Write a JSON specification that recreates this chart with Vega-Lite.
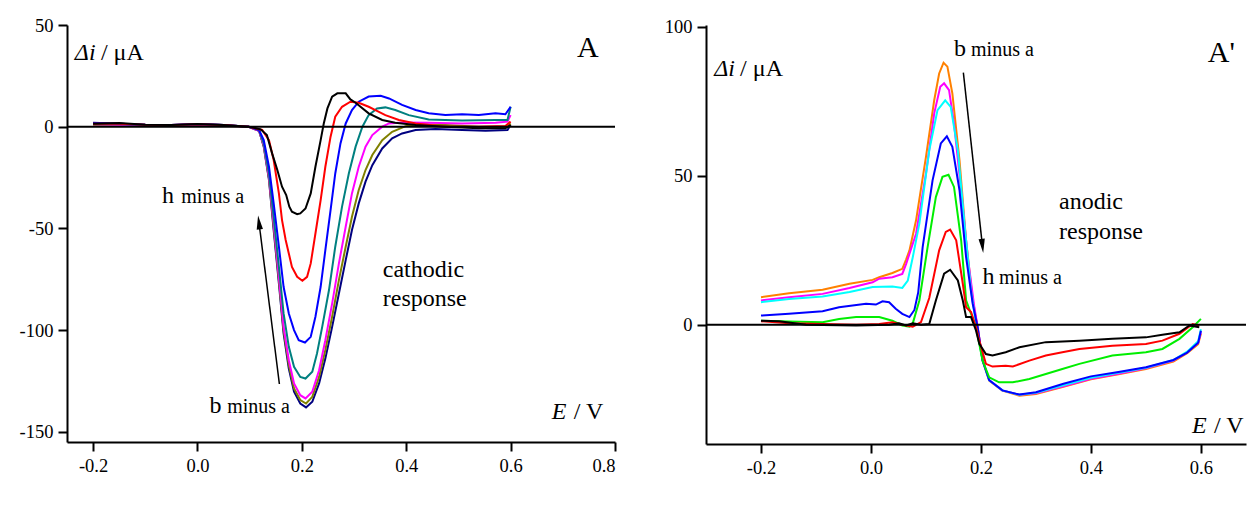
{
 "$schema": "https://vega.github.io/schema/vega-lite/v6.json",
 "padding": {"left": 19, "top": 16, "right": 0, "bottom": 0},
 "background": "white",
 "bounds": "flush",
 "spacing": 91,
 "resolve": {"scale": {"color": "independent"}},
 "config": {
  "font": "Liberation Serif, Times New Roman, serif",
  "view": {"stroke": null},
  "axis": {"grid": false, "title": null, "domainColor": "black", "domainWidth": 2, "tickColor": "black", "tickWidth": 2, "tickSize": 9, "labelFont": "Liberation Serif, Times New Roman, serif", "labelFontSize": 18.5, "labelColor": "black", "labelPadding": 5},
  "text": {"font": "Liberation Serif, Times New Roman, serif", "color": "black"}
 },
 "datasets": {
  "cath": [
   {"E":-0.2,"i":2.0,"s":"b"},{"E":-0.15,"i":1.5,"s":"b"},{"E":-0.1,"i":1.0,"s":"b"},{"E":-0.05,"i":0.8,"s":"b"},{"E":0,"i":1.3,"s":"b"},{"E":0.05,"i":0.9,"s":"b"},{"E":0.098,"i":0,"s":"b"},{"E":0.118,"i":-2.0,"s":"b"},{"E":0.127,"i":-9.8,"s":"b"},{"E":0.137,"i":-26.2,"s":"b"},{"E":0.146,"i":-50.8,"s":"b"},{"E":0.156,"i":-77.0,"s":"b"},{"E":0.165,"i":-101.6,"s":"b"},{"E":0.175,"i":-118.9,"s":"b"},{"E":0.185,"i":-130.3,"s":"b"},{"E":0.197,"i":-136.1,"s":"b"},{"E":0.208,"i":-138.0,"s":"b"},{"E":0.22,"i":-135.2,"s":"b"},{"E":0.233,"i":-126.2,"s":"b"},{"E":0.245,"i":-114.0,"s":"b"},{"E":0.258,"i":-98.4,"s":"b"},{"E":0.271,"i":-82.0,"s":"b"},{"E":0.284,"i":-65.6,"s":"b"},{"E":0.296,"i":-50.8,"s":"b"},{"E":0.309,"i":-37.7,"s":"b"},{"E":0.322,"i":-27.0,"s":"b"},{"E":0.335,"i":-18.9,"s":"b"},{"E":0.354,"i":-10.7,"s":"b"},{"E":0.373,"i":-5.7,"s":"b"},{"E":0.392,"i":-3.3,"s":"b"},{"E":0.418,"i":-1.6,"s":"b"},{"E":0.456,"i":-1.1,"s":"b"},{"E":0.507,"i":-1.6,"s":"b"},{"E":0.552,"i":-2.0,"s":"b"},{"E":0.594,"i":-1.6,"s":"b"},{"E":0.6,"i":0.8,"s":"b"},
   {"E":-0.2,"i":1.0,"s":"c"},{"E":-0.15,"i":1.0,"s":"c"},{"E":-0.1,"i":0.5,"s":"c"},{"E":-0.05,"i":0.4,"s":"c"},{"E":0,"i":0.8,"s":"c"},{"E":0.05,"i":0.5,"s":"c"},{"E":0.098,"i":0,"s":"c"},{"E":0.118,"i":-2.0,"s":"c"},{"E":0.127,"i":-9.5,"s":"c"},{"E":0.137,"i":-25.4,"s":"c"},{"E":0.146,"i":-49.2,"s":"c"},{"E":0.156,"i":-75.4,"s":"c"},{"E":0.165,"i":-100,"s":"c"},{"E":0.175,"i":-117.2,"s":"c"},{"E":0.185,"i":-128.7,"s":"c"},{"E":0.197,"i":-134.4,"s":"c"},{"E":0.208,"i":-136.1,"s":"c"},{"E":0.22,"i":-132.8,"s":"c"},{"E":0.233,"i":-123.0,"s":"c"},{"E":0.245,"i":-109.8,"s":"c"},{"E":0.258,"i":-93.4,"s":"c"},{"E":0.271,"i":-75.4,"s":"c"},{"E":0.284,"i":-59.0,"s":"c"},{"E":0.296,"i":-44.3,"s":"c"},{"E":0.309,"i":-31.1,"s":"c"},{"E":0.322,"i":-21.3,"s":"c"},{"E":0.335,"i":-13.9,"s":"c"},{"E":0.354,"i":-6.6,"s":"c"},{"E":0.373,"i":-2.5,"s":"c"},{"E":0.399,"i":0.3,"s":"c"},{"E":0.424,"i":1.3,"s":"c"},{"E":0.475,"i":0.8,"s":"c"},{"E":0.539,"i":0,"s":"c"},{"E":0.594,"i":0,"s":"c"},{"E":0.6,"i":1.6,"s":"c"},
   {"E":-0.2,"i":1.2,"s":"d"},{"E":-0.15,"i":1.0,"s":"d"},{"E":-0.1,"i":0.7,"s":"d"},{"E":-0.05,"i":0.5,"s":"d"},{"E":0,"i":1.0,"s":"d"},{"E":0.05,"i":0.6,"s":"d"},{"E":0.098,"i":0,"s":"d"},{"E":0.118,"i":-2.0,"s":"d"},{"E":0.127,"i":-9.0,"s":"d"},{"E":0.137,"i":-24.6,"s":"d"},{"E":0.146,"i":-47.5,"s":"d"},{"E":0.156,"i":-73.8,"s":"d"},{"E":0.165,"i":-98.4,"s":"d"},{"E":0.175,"i":-114.8,"s":"d"},{"E":0.185,"i":-126.2,"s":"d"},{"E":0.197,"i":-132.0,"s":"d"},{"E":0.207,"i":-133.6,"s":"d"},{"E":0.22,"i":-130.3,"s":"d"},{"E":0.233,"i":-119.7,"s":"d"},{"E":0.245,"i":-105.0,"s":"d"},{"E":0.258,"i":-87.0,"s":"d"},{"E":0.271,"i":-67.2,"s":"d"},{"E":0.284,"i":-49.2,"s":"d"},{"E":0.296,"i":-32.8,"s":"d"},{"E":0.309,"i":-19.7,"s":"d"},{"E":0.322,"i":-9.8,"s":"d"},{"E":0.335,"i":-4.1,"s":"d"},{"E":0.354,"i":0,"s":"d"},{"E":0.367,"i":1.6,"s":"d"},{"E":0.392,"i":2.1,"s":"d"},{"E":0.443,"i":2.0,"s":"d"},{"E":0.507,"i":1.6,"s":"d"},{"E":0.571,"i":2.0,"s":"d"},{"E":0.594,"i":2.5,"s":"d"},{"E":0.6,"i":5.7,"s":"d"},
   {"E":-0.2,"i":1.5,"s":"e"},{"E":-0.15,"i":1.3,"s":"e"},{"E":-0.1,"i":0.8,"s":"e"},{"E":-0.05,"i":0.6,"s":"e"},{"E":0,"i":1.2,"s":"e"},{"E":0.05,"i":0.8,"s":"e"},{"E":0.098,"i":0,"s":"e"},{"E":0.118,"i":-1.6,"s":"e"},{"E":0.127,"i":-8.2,"s":"e"},{"E":0.137,"i":-23.0,"s":"e"},{"E":0.146,"i":-44.3,"s":"e"},{"E":0.156,"i":-68.9,"s":"e"},{"E":0.165,"i":-91.8,"s":"e"},{"E":0.175,"i":-108.2,"s":"e"},{"E":0.185,"i":-118.0,"s":"e"},{"E":0.197,"i":-123.0,"s":"e"},{"E":0.207,"i":-123.8,"s":"e"},{"E":0.22,"i":-120.5,"s":"e"},{"E":0.229,"i":-111.5,"s":"e"},{"E":0.239,"i":-98.4,"s":"e"},{"E":0.252,"i":-80.3,"s":"e"},{"E":0.264,"i":-59.0,"s":"e"},{"E":0.277,"i":-39.3,"s":"e"},{"E":0.29,"i":-23.0,"s":"e"},{"E":0.303,"i":-9.8,"s":"e"},{"E":0.316,"i":0,"s":"e"},{"E":0.328,"i":5.7,"s":"e"},{"E":0.344,"i":9.0,"s":"e"},{"E":0.36,"i":9.5,"s":"e"},{"E":0.379,"i":8.2,"s":"e"},{"E":0.405,"i":5.7,"s":"e"},{"E":0.443,"i":3.6,"s":"e"},{"E":0.507,"i":3.0,"s":"e"},{"E":0.571,"i":3.3,"s":"e"},{"E":0.594,"i":3.3,"s":"e"},{"E":0.6,"i":9.8,"s":"e"},
   {"E":-0.2,"i":1.8,"s":"f"},{"E":-0.15,"i":1.5,"s":"f"},{"E":-0.1,"i":1.0,"s":"f"},{"E":-0.05,"i":0.8,"s":"f"},{"E":0,"i":1.3,"s":"f"},{"E":0.05,"i":0.9,"s":"f"},{"E":0.098,"i":0,"s":"f"},{"E":0.118,"i":-1.6,"s":"f"},{"E":0.127,"i":-6.6,"s":"f"},{"E":0.137,"i":-19.7,"s":"f"},{"E":0.146,"i":-37.7,"s":"f"},{"E":0.156,"i":-59.0,"s":"f"},{"E":0.165,"i":-78.7,"s":"f"},{"E":0.175,"i":-91.8,"s":"f"},{"E":0.185,"i":-100.0,"s":"f"},{"E":0.194,"i":-104.9,"s":"f"},{"E":0.206,"i":-106.1,"s":"f"},{"E":0.217,"i":-103.3,"s":"f"},{"E":0.226,"i":-93.4,"s":"f"},{"E":0.236,"i":-78.7,"s":"f"},{"E":0.245,"i":-60.7,"s":"f"},{"E":0.255,"i":-41.0,"s":"f"},{"E":0.264,"i":-23.0,"s":"f"},{"E":0.274,"i":-8.2,"s":"f"},{"E":0.284,"i":1.6,"s":"f"},{"E":0.296,"i":8.2,"s":"f"},{"E":0.309,"i":12.3,"s":"f"},{"E":0.328,"i":14.8,"s":"f"},{"E":0.351,"i":15.2,"s":"f"},{"E":0.367,"i":13.9,"s":"f"},{"E":0.392,"i":10.7,"s":"f"},{"E":0.418,"i":8.2,"s":"f"},{"E":0.443,"i":6.6,"s":"f"},{"E":0.475,"i":5.7,"s":"f"},{"E":0.507,"i":6.1,"s":"f"},{"E":0.539,"i":5.7,"s":"f"},{"E":0.571,"i":6.6,"s":"f"},{"E":0.59,"i":6.1,"s":"f"},{"E":0.6,"i":9.8,"s":"f"},
   {"E":-0.2,"i":1.5,"s":"g"},{"E":-0.15,"i":1.5,"s":"g"},{"E":-0.1,"i":1.0,"s":"g"},{"E":-0.05,"i":0.8,"s":"g"},{"E":0,"i":1.2,"s":"g"},{"E":0.05,"i":0.8,"s":"g"},{"E":0.098,"i":0,"s":"g"},{"E":0.124,"i":-1.6,"s":"g"},{"E":0.137,"i":-6.6,"s":"g"},{"E":0.146,"i":-16.4,"s":"g"},{"E":0.156,"i":-32.8,"s":"g"},{"E":0.162,"i":-45.9,"s":"g"},{"E":0.169,"i":-55.7,"s":"g"},{"E":0.175,"i":-62.3,"s":"g"},{"E":0.181,"i":-68.9,"s":"g"},{"E":0.191,"i":-73.8,"s":"g"},{"E":0.201,"i":-75.7,"s":"g"},{"E":0.21,"i":-73.8,"s":"g"},{"E":0.217,"i":-67.2,"s":"g"},{"E":0.226,"i":-52.5,"s":"g"},{"E":0.236,"i":-36.1,"s":"g"},{"E":0.245,"i":-19.7,"s":"g"},{"E":0.255,"i":-4.9,"s":"g"},{"E":0.264,"i":4.9,"s":"g"},{"E":0.277,"i":9.8,"s":"g"},{"E":0.293,"i":12.3,"s":"g"},{"E":0.309,"i":11.8,"s":"g"},{"E":0.328,"i":9.8,"s":"g"},{"E":0.341,"i":8.2,"s":"g"},{"E":0.36,"i":5.7,"s":"g"},{"E":0.386,"i":3.3,"s":"g"},{"E":0.418,"i":1.6,"s":"g"},{"E":0.475,"i":0,"s":"g"},{"E":0.539,"i":0,"s":"g"},{"E":0.59,"i":0.3,"s":"g"},{"E":0.6,"i":2.5,"s":"g"},
   {"E":-0.2,"i":1.5,"s":"h"},{"E":-0.15,"i":1.8,"s":"h"},{"E":-0.1,"i":1.0,"s":"h"},{"E":-0.05,"i":0.8,"s":"h"},{"E":0,"i":1.3,"s":"h"},{"E":0.05,"i":0.8,"s":"h"},{"E":0.098,"i":0,"s":"h"},{"E":0.121,"i":-1.3,"s":"h"},{"E":0.133,"i":-4.1,"s":"h"},{"E":0.143,"i":-13.1,"s":"h"},{"E":0.153,"i":-21.3,"s":"h"},{"E":0.162,"i":-29.5,"s":"h"},{"E":0.17,"i":-33.6,"s":"h"},{"E":0.176,"i":-39.3,"s":"h"},{"E":0.181,"i":-41.8,"s":"h"},{"E":0.191,"i":-43.0,"s":"h"},{"E":0.197,"i":-42.6,"s":"h"},{"E":0.207,"i":-40.2,"s":"h"},{"E":0.217,"i":-32.8,"s":"h"},{"E":0.226,"i":-19.7,"s":"h"},{"E":0.236,"i":-6.6,"s":"h"},{"E":0.242,"i":1.6,"s":"h"},{"E":0.249,"i":9.0,"s":"h"},{"E":0.258,"i":14.8,"s":"h"},{"E":0.268,"i":16.4,"s":"h"},{"E":0.284,"i":16.4,"s":"h"},{"E":0.293,"i":13.4,"s":"h"},{"E":0.303,"i":11.8,"s":"h"},{"E":0.328,"i":6.6,"s":"h"},{"E":0.354,"i":3.3,"s":"h"},{"E":0.379,"i":2.0,"s":"h"},{"E":0.418,"i":0.8,"s":"h"},{"E":0.475,"i":0,"s":"h"},{"E":0.539,"i":-0.8,"s":"h"},{"E":0.59,"i":-0.8,"s":"h"},{"E":0.6,"i":0.8,"s":"h"}
  ],
  "anod": [
   {"E":-0.2,"i":9.3,"s":"b"},{"E":-0.149,"i":10.6,"s":"b"},{"E":-0.088,"i":11.8,"s":"b"},{"E":-0.039,"i":13.8,"s":"b"},{"E":0.003,"i":15.1,"s":"b"},{"E":0.015,"i":16.0,"s":"b"},{"E":0.039,"i":17.4,"s":"b"},{"E":0.057,"i":18.8,"s":"b"},{"E":0.064,"i":22.0,"s":"b"},{"E":0.07,"i":25.0,"s":"b"},{"E":0.082,"i":35.1,"s":"b"},{"E":0.1,"i":56.4,"s":"b"},{"E":0.115,"i":75.4,"s":"b"},{"E":0.124,"i":84.4,"s":"b"},{"E":0.132,"i":88.0,"s":"b"},{"E":0.139,"i":86.7,"s":"b"},{"E":0.148,"i":77.7,"s":"b"},{"E":0.161,"i":55.3,"s":"b"},{"E":0.173,"i":28.3,"s":"b"},{"E":0.185,"i":8.2,"s":"b"},{"E":0.194,"i":-0.8,"s":"b"},{"E":0.203,"i":-12.0,"s":"b"},{"E":0.215,"i":-18.7,"s":"b"},{"E":0.239,"i":-22.1,"s":"b"},{"E":0.27,"i":-23.8,"s":"b"},{"E":0.3,"i":-23.2,"s":"b"},{"E":0.35,"i":-20.8,"s":"b"},{"E":0.4,"i":-18.3,"s":"b"},{"E":0.45,"i":-16.6,"s":"b"},{"E":0.5,"i":-14.8,"s":"b"},{"E":0.55,"i":-12.3,"s":"b"},{"E":0.575,"i":-9.5,"s":"b"},{"E":0.595,"i":-6.5,"s":"b"},{"E":0.6,"i":-3.0,"s":"b"},
   {"E":-0.2,"i":8.2,"s":"c"},{"E":-0.149,"i":9.3,"s":"c"},{"E":-0.088,"i":10.4,"s":"c"},{"E":-0.039,"i":12.4,"s":"c"},{"E":0.003,"i":14.3,"s":"c"},{"E":0.015,"i":15.5,"s":"c"},{"E":0.039,"i":16.0,"s":"c"},{"E":0.057,"i":17.1,"s":"c"},{"E":0.064,"i":20.5,"s":"c"},{"E":0.082,"i":30.6,"s":"c"},{"E":0.1,"i":50.8,"s":"c"},{"E":0.115,"i":71.0,"s":"c"},{"E":0.126,"i":79.9,"s":"c"},{"E":0.133,"i":81.1,"s":"c"},{"E":0.142,"i":78.8,"s":"c"},{"E":0.151,"i":67.6,"s":"c"},{"E":0.164,"i":45.2,"s":"c"},{"E":0.176,"i":22.7,"s":"c"},{"E":0.188,"i":5.9,"s":"c"},{"E":0.194,"i":-0.8,"s":"c"},{"E":0.203,"i":-12.0,"s":"c"},{"E":0.215,"i":-18.5,"s":"c"},{"E":0.239,"i":-22.0,"s":"c"},{"E":0.27,"i":-23.5,"s":"c"},{"E":0.3,"i":-23.0,"s":"c"},{"E":0.35,"i":-20.6,"s":"c"},{"E":0.4,"i":-18.1,"s":"c"},{"E":0.45,"i":-16.4,"s":"c"},{"E":0.5,"i":-14.6,"s":"c"},{"E":0.55,"i":-12.0,"s":"c"},{"E":0.575,"i":-9.2,"s":"c"},{"E":0.595,"i":-6.0,"s":"c"},{"E":0.6,"i":-2.5,"s":"c"},
   {"E":-0.2,"i":7.6,"s":"d"},{"E":-0.149,"i":8.7,"s":"d"},{"E":-0.088,"i":9.5,"s":"d"},{"E":-0.039,"i":11.0,"s":"d"},{"E":0.003,"i":12.7,"s":"d"},{"E":0.039,"i":12.9,"s":"d"},{"E":0.057,"i":12.4,"s":"d"},{"E":0.067,"i":14.9,"s":"d"},{"E":0.076,"i":22.7,"s":"d"},{"E":0.088,"i":34.0,"s":"d"},{"E":0.106,"i":58.6,"s":"d"},{"E":0.121,"i":72.1,"s":"d"},{"E":0.135,"i":75.4,"s":"d"},{"E":0.145,"i":73.2,"s":"d"},{"E":0.158,"i":58.6,"s":"d"},{"E":0.17,"i":34.0,"s":"d"},{"E":0.182,"i":11.5,"s":"d"},{"E":0.191,"i":0.3,"s":"d"},{"E":0.203,"i":-12.0,"s":"d"},{"E":0.215,"i":-18.6,"s":"d"},{"E":0.239,"i":-22.0,"s":"d"},{"E":0.27,"i":-23.5,"s":"d"},{"E":0.3,"i":-22.8,"s":"d"},{"E":0.35,"i":-20.3,"s":"d"},{"E":0.4,"i":-17.8,"s":"d"},{"E":0.45,"i":-16.1,"s":"d"},{"E":0.5,"i":-14.4,"s":"d"},{"E":0.55,"i":-11.8,"s":"d"},{"E":0.575,"i":-9.0,"s":"d"},{"E":0.595,"i":-5.5,"s":"d"},{"E":0.6,"i":-1.5,"s":"d"},
   {"E":-0.2,"i":3.1,"s":"e"},{"E":-0.149,"i":3.7,"s":"e"},{"E":-0.088,"i":4.6,"s":"e"},{"E":-0.058,"i":5.9,"s":"e"},{"E":-0.009,"i":7.1,"s":"e"},{"E":0.009,"i":6.8,"s":"e"},{"E":0.021,"i":7.9,"s":"e"},{"E":0.033,"i":7.6,"s":"e"},{"E":0.045,"i":5.4,"s":"e"},{"E":0.057,"i":3.7,"s":"e"},{"E":0.07,"i":2.6,"s":"e"},{"E":0.079,"i":5.0,"s":"e"},{"E":0.086,"i":11.0,"s":"e"},{"E":0.094,"i":26.1,"s":"e"},{"E":0.112,"i":48.5,"s":"e"},{"E":0.127,"i":60.9,"s":"e"},{"E":0.138,"i":63.3,"s":"e"},{"E":0.148,"i":59.8,"s":"e"},{"E":0.161,"i":45.2,"s":"e"},{"E":0.173,"i":22.7,"s":"e"},{"E":0.185,"i":7.1,"s":"e"},{"E":0.194,"i":-0.8,"s":"e"},{"E":0.203,"i":-12.0,"s":"e"},{"E":0.215,"i":-18.6,"s":"e"},{"E":0.239,"i":-22.0,"s":"e"},{"E":0.27,"i":-23.4,"s":"e"},{"E":0.3,"i":-22.6,"s":"e"},{"E":0.35,"i":-19.8,"s":"e"},{"E":0.4,"i":-17.3,"s":"e"},{"E":0.45,"i":-15.8,"s":"e"},{"E":0.5,"i":-14.2,"s":"e"},{"E":0.55,"i":-11.8,"s":"e"},{"E":0.575,"i":-9.3,"s":"e"},{"E":0.595,"i":-6.0,"s":"e"},{"E":0.6,"i":-2.0,"s":"e"},
   {"E":-0.2,"i":1.4,"s":"f"},{"E":-0.149,"i":1.1,"s":"f"},{"E":-0.088,"i":0.9,"s":"f"},{"E":-0.058,"i":2.0,"s":"f"},{"E":-0.027,"i":2.6,"s":"f"},{"E":0.015,"i":2.6,"s":"f"},{"E":0.039,"i":1.4,"s":"f"},{"E":0.057,"i":-0.2,"s":"f"},{"E":0.07,"i":-0.6,"s":"f"},{"E":0.076,"i":0.5,"s":"f"},{"E":0.088,"i":8.2,"s":"f"},{"E":0.103,"i":26.1,"s":"f"},{"E":0.118,"i":42.9,"s":"f"},{"E":0.13,"i":49.7,"s":"f"},{"E":0.141,"i":50.4,"s":"f"},{"E":0.151,"i":46.3,"s":"f"},{"E":0.164,"i":28.4,"s":"f"},{"E":0.173,"i":8.2,"s":"f"},{"E":0.182,"i":3.7,"s":"f"},{"E":0.191,"i":-0.8,"s":"f"},{"E":0.203,"i":-12.0,"s":"f"},{"E":0.215,"i":-17.6,"s":"f"},{"E":0.233,"i":-19.3,"s":"f"},{"E":0.258,"i":-19.3,"s":"f"},{"E":0.288,"i":-18.2,"s":"f"},{"E":0.318,"i":-16.5,"s":"f"},{"E":0.348,"i":-14.8,"s":"f"},{"E":0.379,"i":-13.1,"s":"f"},{"E":0.439,"i":-10.3,"s":"f"},{"E":0.5,"i":-9.2,"s":"f"},{"E":0.53,"i":-8.1,"s":"f"},{"E":0.561,"i":-4.7,"s":"f"},{"E":0.585,"i":-0.8,"s":"f"},{"E":0.6,"i":2.0,"s":"f"},
   {"E":-0.2,"i":1.2,"s":"g"},{"E":-0.149,"i":0.5,"s":"g"},{"E":-0.088,"i":0.3,"s":"g"},{"E":-0.027,"i":0,"s":"g"},{"E":0.015,"i":0.3,"s":"g"},{"E":0.039,"i":0.9,"s":"g"},{"E":0.057,"i":0,"s":"g"},{"E":0.076,"i":-0.6,"s":"g"},{"E":0.091,"i":0.9,"s":"g"},{"E":0.106,"i":9.0,"s":"g"},{"E":0.124,"i":25.0,"s":"g"},{"E":0.136,"i":31.2,"s":"g"},{"E":0.144,"i":32.0,"s":"g"},{"E":0.155,"i":28.4,"s":"g"},{"E":0.167,"i":13.8,"s":"g"},{"E":0.173,"i":5.9,"s":"g"},{"E":0.182,"i":4.3,"s":"g"},{"E":0.191,"i":-0.8,"s":"g"},{"E":0.197,"i":-5.3,"s":"g"},{"E":0.209,"i":-13.1,"s":"g"},{"E":0.221,"i":-14.0,"s":"g"},{"E":0.245,"i":-13.7,"s":"g"},{"E":0.258,"i":-14.0,"s":"g"},{"E":0.288,"i":-12.0,"s":"g"},{"E":0.318,"i":-10.3,"s":"g"},{"E":0.348,"i":-9.2,"s":"g"},{"E":0.379,"i":-8.1,"s":"g"},{"E":0.439,"i":-7.0,"s":"g"},{"E":0.5,"i":-6.4,"s":"g"},{"E":0.53,"i":-5.3,"s":"g"},{"E":0.561,"i":-3.0,"s":"g"},{"E":0.585,"i":0.3,"s":"g"},{"E":0.597,"i":-0.2,"s":"g"},
   {"E":-0.2,"i":1.4,"s":"h"},{"E":-0.167,"i":1.2,"s":"h"},{"E":-0.118,"i":0,"s":"h"},{"E":-0.027,"i":-0.2,"s":"h"},{"E":0.033,"i":0,"s":"h"},{"E":0.051,"i":0.5,"s":"h"},{"E":0.064,"i":-0.2,"s":"h"},{"E":0.076,"i":0.5,"s":"h"},{"E":0.091,"i":0,"s":"h"},{"E":0.106,"i":0.3,"s":"h"},{"E":0.118,"i":8.2,"s":"h"},{"E":0.133,"i":17.2,"s":"h"},{"E":0.144,"i":18.5,"s":"h"},{"E":0.158,"i":14.9,"s":"h"},{"E":0.167,"i":8.2,"s":"h"},{"E":0.173,"i":2.6,"s":"h"},{"E":0.182,"i":2.6,"s":"h"},{"E":0.191,"i":-1.9,"s":"h"},{"E":0.197,"i":-6.4,"s":"h"},{"E":0.209,"i":-9.8,"s":"h"},{"E":0.221,"i":-10.3,"s":"h"},{"E":0.245,"i":-9.2,"s":"h"},{"E":0.27,"i":-7.5,"s":"h"},{"E":0.318,"i":-5.8,"s":"h"},{"E":0.379,"i":-5.3,"s":"h"},{"E":0.439,"i":-4.7,"s":"h"},{"E":0.5,"i":-4.2,"s":"h"},{"E":0.53,"i":-3.3,"s":"h"},{"E":0.561,"i":-2.5,"s":"h"},{"E":0.579,"i":-0.2,"s":"h"},{"E":0.597,"i":-0.8,"s":"h"}
  ]
 },
 "hconcat": [
  {
   "width": 548,
   "height": 417,
   "layer": [
    {
     "data": {"name": "cath"},
     "mark": {"type": "line", "strokeWidth": 2},
     "encoding": {
      "x": {"field": "E", "type": "quantitative", "scale": {"domain": [-0.25, 0.8], "nice": false, "zero": false}, "axis": {"values": [-0.2, 0, 0.2, 0.4, 0.6, 0.8], "labelExpr": "(datum.value < 0 ? '-' : '') + format(abs(datum.value), '.1f')"}},
      "y": {"field": "i", "type": "quantitative", "scale": {"domain": [-155, 50], "nice": false, "zero": false}, "axis": {"values": [-150, -100, -50, 0, 50], "labelExpr": "(datum.value < 0 ? '-' : '') + format(abs(datum.value), 'd')"}},
      "color": {"field": "s", "type": "nominal", "scale": {"domain": ["h", "g", "f", "e", "d", "c", "b"], "range": ["#000000", "#ff0000", "#0000ff", "#008080", "#ff00ff", "#808000", "#000080"]}, "legend": null}
     }
    },
    {"data": {"values": [{}]}, "mark": {"type": "rule", "color": "black", "strokeWidth": 2}, "encoding": {"y": {"datum": 0}}},
    {"data": {"values": [{}]}, "mark": {"type": "text", "text": "Δi", "font": "Liberation Serif, Times New Roman, serif", "fontStyle": "italic", "fontSize": 24, "align": "left", "baseline": "alphabetic"}, "encoding": {"x": {"datum": -0.235}, "y": {"datum": 32.8}}},
    {"data": {"values": [{}]}, "mark": {"type": "text", "text": "/ μA", "font": "Liberation Serif, Times New Roman, serif", "fontSize": 24, "align": "left", "baseline": "alphabetic"}, "encoding": {"x": {"datum": -0.185}, "y": {"datum": 32.8}}},
    {"data": {"values": [{}]}, "mark": {"type": "text", "text": "A", "font": "Liberation Serif, Times New Roman, serif", "fontSize": 30, "align": "center", "baseline": "alphabetic"}, "encoding": {"x": {"datum": 0.748}, "y": {"datum": 34.5}}},
    {"data": {"values": [{}]}, "mark": {"type": "text", "text": "h", "font": "Liberation Serif, Times New Roman, serif", "fontSize": 24, "align": "left", "baseline": "alphabetic"}, "encoding": {"x": {"datum": -0.068}, "y": {"datum": -37.5}}},
    {"data": {"values": [{}]}, "mark": {"type": "text", "text": "minus a", "font": "Liberation Serif, Times New Roman, serif", "fontSize": 20, "align": "left", "baseline": "alphabetic"}, "encoding": {"x": {"datum": -0.031}, "y": {"datum": -37.5}}},
    {"data": {"values": [{}]}, "mark": {"type": "text", "text": "b", "font": "Liberation Serif, Times New Roman, serif", "fontSize": 24, "align": "left", "baseline": "alphabetic"}, "encoding": {"x": {"datum": 0.023}, "y": {"datum": -140.8}}},
    {"data": {"values": [{}]}, "mark": {"type": "text", "text": "minus a", "font": "Liberation Serif, Times New Roman, serif", "fontSize": 20, "align": "left", "baseline": "alphabetic"}, "encoding": {"x": {"datum": 0.057}, "y": {"datum": -140.8}}},
    {"data": {"values": [{}]}, "mark": {"type": "text", "text": ["cathodic", "response"], "font": "Liberation Serif, Times New Roman, serif", "fontSize": 24, "lineHeight": 28.5, "align": "left", "baseline": "alphabetic"}, "encoding": {"x": {"datum": 0.355}, "y": {"datum": -74.0}}},
    {"data": {"values": [{}]}, "mark": {"type": "text", "text": "E", "font": "Liberation Serif, Times New Roman, serif", "fontStyle": "italic", "fontSize": 24, "align": "left", "baseline": "alphabetic"}, "encoding": {"x": {"datum": 0.679}, "y": {"datum": -143.7}}},
    {"data": {"values": [{}]}, "mark": {"type": "text", "text": "/ V", "font": "Liberation Serif, Times New Roman, serif", "fontSize": 24, "align": "left", "baseline": "alphabetic"}, "encoding": {"x": {"datum": 0.721}, "y": {"datum": -143.7}}},
    {"data": {"values": [{}]}, "mark": {"type": "rule", "color": "black", "strokeWidth": 1.5}, "encoding": {"x": {"datum": 0.157}, "y": {"datum": -126.5}, "x2": {"datum": 0.1178}, "y2": {"datum": -47.1}}},
    {"data": {"values": [{}]}, "mark": {"type": "point", "shape": "M0,-1L-0.45,1L0.45,1Z", "filled": true, "color": "black", "opacity": 1, "size": 196, "angle": -7.2}, "encoding": {"x": {"datum": 0.1178}, "y": {"datum": -47.1}}}
   ]
  },
  {
   "width": 540,
   "height": 419,
   "layer": [
    {
     "data": {"name": "anod"},
     "mark": {"type": "line", "strokeWidth": 2},
     "encoding": {
      "x": {"field": "E", "type": "quantitative", "scale": {"domain": [-0.3, 0.682], "nice": false, "zero": false}, "axis": {"values": [-0.2, 0, 0.2, 0.4, 0.6], "labelExpr": "(datum.value < 0 ? '-' : '') + format(abs(datum.value), '.1f')"}},
      "y": {"field": "i", "type": "quantitative", "scale": {"domain": [-40, 100.67], "nice": false, "zero": false}, "axis": {"values": [0, 50, 100], "labelExpr": "format(datum.value, 'd')"}},
      "color": {"field": "s", "type": "nominal", "scale": {"domain": ["h", "g", "f", "e", "d", "c", "b"], "range": ["#000000", "#ff0000", "#00ee00", "#0000ff", "#00ffff", "#ff00ff", "#ff8000"]}, "legend": null}
     }
    },
    {"data": {"values": [{}]}, "mark": {"type": "rule", "color": "black", "strokeWidth": 2}, "encoding": {"y": {"datum": 0}}},
    {"data": {"values": [{}]}, "mark": {"type": "text", "text": "Δi", "font": "Liberation Serif, Times New Roman, serif", "fontStyle": "italic", "fontSize": 24, "align": "left", "baseline": "alphabetic"}, "encoding": {"x": {"datum": -0.285}, "y": {"datum": 83.6}}},
    {"data": {"values": [{}]}, "mark": {"type": "text", "text": "/ μA", "font": "Liberation Serif, Times New Roman, serif", "fontSize": 24, "align": "left", "baseline": "alphabetic"}, "encoding": {"x": {"datum": -0.238}, "y": {"datum": 83.6}}},
    {"data": {"values": [{}]}, "mark": {"type": "text", "text": "A'", "font": "Liberation Serif, Times New Roman, serif", "fontSize": 30, "align": "center", "baseline": "alphabetic"}, "encoding": {"x": {"datum": 0.637}, "y": {"datum": 88.3}}},
    {"data": {"values": [{}]}, "mark": {"type": "text", "text": "b", "font": "Liberation Serif, Times New Roman, serif", "fontSize": 24, "align": "left", "baseline": "alphabetic"}, "encoding": {"x": {"datum": 0.151}, "y": {"datum": 90.3}}},
    {"data": {"values": [{}]}, "mark": {"type": "text", "text": "minus a", "font": "Liberation Serif, Times New Roman, serif", "fontSize": 20, "align": "left", "baseline": "alphabetic"}, "encoding": {"x": {"datum": 0.182}, "y": {"datum": 90.3}}},
    {"data": {"values": [{}]}, "mark": {"type": "text", "text": "h", "font": "Liberation Serif, Times New Roman, serif", "fontSize": 24, "align": "left", "baseline": "alphabetic"}, "encoding": {"x": {"datum": 0.203}, "y": {"datum": 13.6}}},
    {"data": {"values": [{}]}, "mark": {"type": "text", "text": "minus a", "font": "Liberation Serif, Times New Roman, serif", "fontSize": 20, "align": "left", "baseline": "alphabetic"}, "encoding": {"x": {"datum": 0.233}, "y": {"datum": 13.6}}},
    {"data": {"values": [{}]}, "mark": {"type": "text", "text": ["anodic", "response"], "font": "Liberation Serif, Times New Roman, serif", "fontSize": 24, "lineHeight": 30, "align": "left", "baseline": "alphabetic"}, "encoding": {"x": {"datum": 0.342}, "y": {"datum": 38.9}}},
    {"data": {"values": [{}]}, "mark": {"type": "text", "text": "E", "font": "Liberation Serif, Times New Roman, serif", "fontStyle": "italic", "fontSize": 24, "align": "left", "baseline": "alphabetic"}, "encoding": {"x": {"datum": 0.584}, "y": {"datum": -36.3}}},
    {"data": {"values": [{}]}, "mark": {"type": "text", "text": "/ V", "font": "Liberation Serif, Times New Roman, serif", "fontSize": 24, "align": "left", "baseline": "alphabetic"}, "encoding": {"x": {"datum": 0.624}, "y": {"datum": -36.3}}},
    {"data": {"values": [{}]}, "mark": {"type": "rule", "color": "black", "strokeWidth": 1.5}, "encoding": {"x": {"datum": 0.168}, "y": {"datum": 84.7}, "x2": {"datum": 0.2027}, "y2": {"datum": 26.5}}},
    {"data": {"values": [{}]}, "mark": {"type": "point", "shape": "M0,-1L-0.45,1L0.45,1Z", "filled": true, "color": "black", "opacity": 1, "size": 196, "angle": 173.7}, "encoding": {"x": {"datum": 0.2027}, "y": {"datum": 26.5}}}
   ]
  }
 ]
}
